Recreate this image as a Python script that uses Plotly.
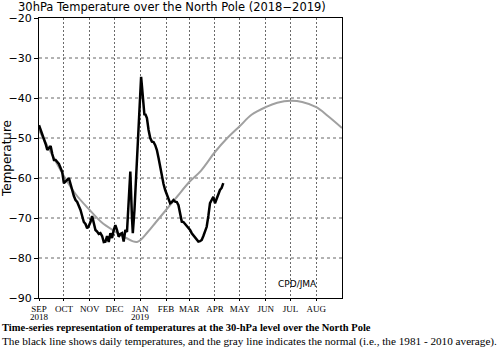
import datetime as dt
import plotly.graph_objects as go

# ---------------- data ----------------
start = dt.date(2018, 9, 1)

obs_day = [0, 2, 4, 6, 8, 10, 12, 14, 16, 18, 20, 22, 24, 26, 28, 30, 32, 34, 36, 38,
           40, 42, 44, 46, 48, 50, 52, 54, 56, 58, 60, 62, 64, 66, 68, 70, 72, 74, 76, 78,
           80, 82, 84, 86, 88, 90, 92, 94, 96, 98, 100, 102, 104, 106, 108, 110, 112, 113,
           115, 117, 119, 121, 123, 124, 125, 126, 127, 128, 130, 132, 134, 136, 138, 140,
           142, 144, 146, 148, 150, 152, 154, 156, 158, 160, 162, 164, 166, 168, 170, 172,
           174, 176, 178, 180, 182, 184, 186, 188, 190, 192, 194, 196, 198, 200, 202, 204,
           206, 208, 210, 212, 214, 216, 218, 220, 222]
obs_temp = [-46.8, -48, -49, -50, -51.5, -53, -52.5, -52, -54, -55.5, -55.5, -56, -56.5,
            -57.5, -58.5, -61.3, -61, -60.5, -60, -61.5, -63.5, -64.5, -65.5, -66, -67, -68,
            -69.5, -71, -71.5, -72.6, -72, -71, -69.5, -71, -73, -73.4, -74, -73.8, -74.5,
            -76, -75.9, -74.5, -76, -73.8, -75, -73, -71.8, -73, -74.7, -74, -73.8, -75.9,
            -73, -73.5, -65, -58.4, -70, -73.8, -68, -60, -50, -41, -34.7, -37, -40, -43,
            -44.3, -44, -45, -48, -50, -50.9, -51, -51.8, -53, -55, -57.5, -59.7, -61.5,
            -63, -64.3, -65.5, -66.3, -66, -65.5, -65.9, -66, -66.8, -69, -70.9, -71, -71.5,
            -71.8, -72.5, -73, -73.8, -74.3, -75, -75.5, -75.9, -75.8, -75.5, -74.5, -73.5,
            -72.2, -69.5, -66.3, -65.5, -64.7, -66.3, -65, -63.8, -63, -62.5, -61.3]

norm_date = ["2018-09-01", "2018-09-15", "2018-10-01", "2018-10-15", "2018-11-01",
             "2018-11-15", "2018-12-01", "2018-12-15", "2018-12-28", "2019-01-10",
             "2019-01-20", "2019-02-01", "2019-02-15", "2019-03-01", "2019-03-15",
             "2019-04-01", "2019-04-15", "2019-05-01", "2019-05-15", "2019-06-01",
             "2019-06-15", "2019-07-01", "2019-07-15", "2019-08-01", "2019-08-15",
             "2019-09-01"]
norm_temp = [-48, -53.5, -59.5, -64, -68, -71, -73.3, -75, -76, -73.5, -71, -68, -64.5,
             -61, -58.2, -53.5, -50.2, -47, -44.2, -42.3, -41.2, -40.7, -41, -42.3, -44.5,
             -47.5]

month_ticks = ["2018-09-01", "2018-10-01", "2018-11-01", "2018-12-01", "2019-01-01",
               "2019-02-01", "2019-03-01", "2019-04-01", "2019-05-01", "2019-06-01",
               "2019-07-01", "2019-08-01"]
month_labels = ["SEP", "OCT", "NOV", "DEC", "JAN", "FEB", "MAR", "APR",
                "MAY", "JUN", "JUL", "AUG"]
year_ticks = ["2018-09-01", "2019-01-01"]
year_labels = ["2018", "2019"]
y_ticks = [-90, -80, -70, -60, -50, -40, -30, -20]

title_text = "30hPa Temperature over the North Pole (2018\u22122019)"
caption1 = "Time-series representation of temperatures at the 30-hPa level over the North Pole"
caption2 = ("The black line shows daily temperatures, and the gray line indicates the normal "
            "(i.e., the 1981 - 2010 average).")

# ---------------- figure ----------------
obs_x = [start + dt.timedelta(days=d) for d in obs_day]

L, R, T, B = 39, 158, 18, 55
W, H = 500, 353
pw, ph = W - L - R, H - T - B

def px(x):
    return (x - L) / pw

def py(y):
    return (H - B - y) / ph

fig = go.Figure()
# horizontal dotted grid lines drawn as line traces spanning the x range
for v in y_ticks[1:-1]:
    fig.add_trace(go.Scatter(x=["2018-09-01", "2019-09-01"], y=[v, v], mode="lines",
                             line=dict(color="#666666", width=1, dash="dot"),
                             hoverinfo="skip"))
fig.add_trace(go.Scatter(x=norm_date, y=norm_temp, mode="lines", line_shape="spline",
                         line=dict(color="#a0a0a0", width=2), hoverinfo="skip"))
fig.add_trace(go.Scatter(x=obs_x, y=obs_temp, mode="lines",
                         line=dict(color="black", width=2.5), hoverinfo="skip"))

annotations = [
    dict(text=title_text, xref="paper", yref="paper", x=px(172), y=py(7),
         xanchor="center", yanchor="middle", showarrow=False,
         font=dict(family="DejaVu Sans", size=11.5)),
    dict(text="CPD/JMA", xref="paper", yref="paper", x=px(297), y=py(284),
         xanchor="center", yanchor="middle", showarrow=False,
         font=dict(family="DejaVu Sans", size=9)),
    dict(text="<b>" + caption1 + "</b>", xref="paper", yref="paper", x=0, xshift=-L,
         y=py(327), xanchor="left", yanchor="middle", showarrow=False,
         font=dict(family="Liberation Serif", size=10.5)),
    dict(text=caption2, xref="paper", yref="paper", x=0, xshift=-L,
         y=py(342), xanchor="left", yanchor="middle", showarrow=False,
         font=dict(family="Liberation Serif", size=11.2)),
]
for xv, lab in zip(year_ticks, year_labels):
    annotations.append(dict(text=lab, xref="x", yref="paper", x=xv, y=py(316.5),
                            xanchor="center", yanchor="middle", showarrow=False,
                            font=dict(family="Liberation Sans Narrow", size=9)))

fig.update_layout(
    width=W, height=H,
    margin=dict(l=L, r=R, t=T, b=B, autoexpand=False),
    paper_bgcolor="white", plot_bgcolor="white",
    showlegend=False,
    font=dict(family="DejaVu Sans", color="black"),
    xaxis=dict(
        type="date", range=["2018-09-01", "2019-09-01"],
        tickmode="array", tickvals=month_ticks, ticktext=month_labels,
        tickangle=0, ticklabelmode="instant",
        tickfont=dict(family="Liberation Sans Narrow", size=9),
        ticks="outside", ticklen=2, tickcolor="black",
        showgrid=True, gridcolor="#6a6a6a", griddash="2px,2px", gridwidth=1,
        showline=True, linecolor="black", linewidth=1, mirror=True,
        zeroline=False, automargin=False,
    ),
    yaxis=dict(
        range=[-90, -20], tickmode="array", tickvals=y_ticks,
        ticktext=["\u2212" + str(abs(v)) for v in y_ticks],
        tickfont=dict(family="DejaVu Sans", size=11),
        ticks="outside", ticklen=4, tickcolor="black",
        showgrid=False,
        showline=True, linecolor="black", linewidth=1, mirror=True,
        zeroline=False, automargin=False,
        title=dict(text="Temperature", font=dict(family="DejaVu Sans", size=12), standoff=6),
    ),
    annotations=annotations,
)

fig.write_html("out.html")
